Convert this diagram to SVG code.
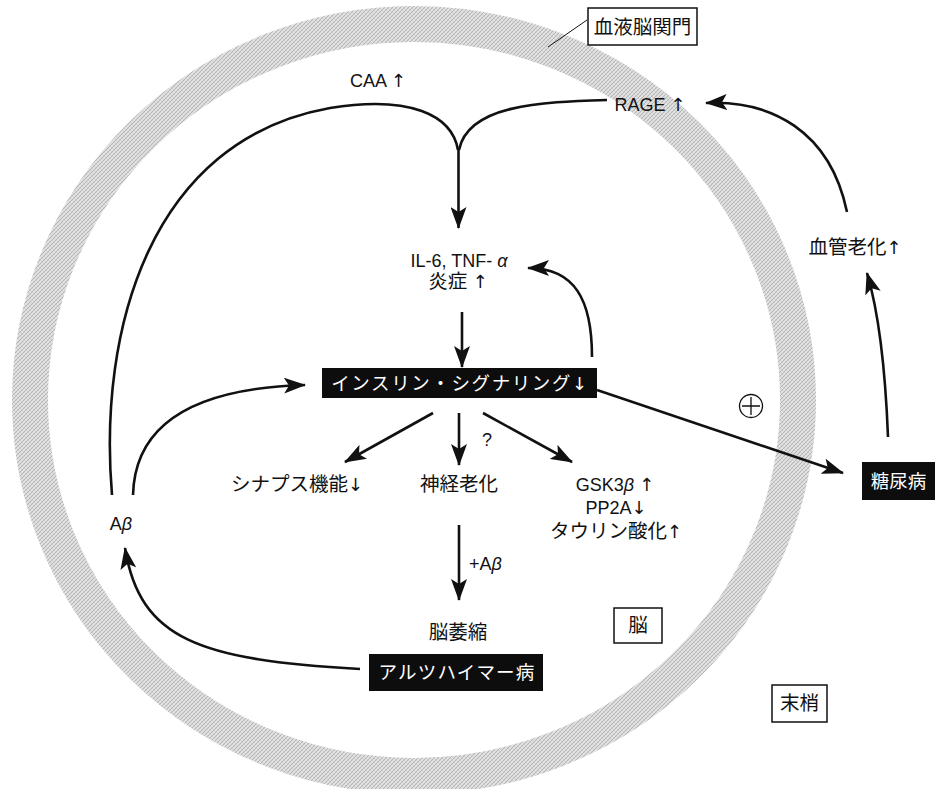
<svg xmlns="http://www.w3.org/2000/svg" width="938" height="789" viewBox="0 0 938 789">
<style>
.t{font-family:"Liberation Sans","Noto Sans CJK JP",sans-serif;font-size:18px;fill:#111;}
.j{font-size:19.5px;}
.w{font-family:"Noto Sans CJK JP","Liberation Sans",sans-serif;font-size:18.5px;fill:#fff;}
.ar{font-family:"DejaVu Sans",sans-serif;font-size:18px;}
.c{fill:none;stroke:#111;stroke-width:2.6;}
.a{marker-end:url(#ah);}
.lbl{fill:#fff;stroke:#111;stroke-width:1.5;}
.blk{fill:#0d0d0d;}
</style>
<defs>
<pattern id="hatch" width="4" height="4" patternUnits="userSpaceOnUse">
<rect width="4" height="4" fill="#e2e2e2"/>
<path d="M0,4 L4,0" stroke="#a8a8a8" stroke-width="0.8"/>
<path d="M0,0 L4,4" stroke="#c4c4c4" stroke-width="0.5"/>
</pattern>
<marker id="ah" viewBox="0 0 22 16" refX="21" refY="8" markerWidth="22" markerHeight="16" markerUnits="userSpaceOnUse" orient="auto">
<path d="M0,0 L22,8 L0,16 L5,8 Z" fill="#111"/>
</marker>
</defs>
<rect width="938" height="789" fill="#fff"/>
<g id="barrier">
<ellipse cx="414" cy="400" rx="384" ry="376" fill="none" stroke="url(#hatch)" stroke-width="36"/>
</g>
<g id="connectors">
<path class="c" d="M112,495 C98,330 150,140 330,108 C410,95 452,115 458,150"/>
<path class="c" d="M607,100 C540,102 468,105 459,150"/>
<path class="c a" d="M458.5,148 L458.5,228"/>
<path class="c a" d="M133,495 C135,420 200,388 305,385"/>
<path class="c a" d="M462,312 L462,367"/>
<path class="c a" d="M592,357 C592,300 575,268 528,268"/>
<path class="c a" d="M433,413 L345,462"/>
<path class="c a" d="M459,413 L459,465"/>
<path class="c a" d="M483,413 L572,462"/>
<path class="c a" d="M459,525 L459,600"/>
<path class="c a" d="M360,669 C200,660 140,640 125,548"/>
<path class="c a" d="M597,390 L843,473"/>
<path class="c a" d="M888,437 C885,360 878,310 867,273"/>
<path class="c a" d="M847,212 C830,130 770,100 706,103"/>
<path d="M587,20 L548,47" fill="none" stroke="#111" stroke-width="1"/>
</g>
<g id="bbb-label"><rect class="lbl" x="588" y="8" width="109" height="37"/><text class="t j" x="642.5" y="34" text-anchor="middle">血液脳関門</text></g>
<g id="caa"><text class="t" x="378" y="87" text-anchor="middle">CAA <tspan class="ar">↑</tspan></text></g>
<g id="rage"><text class="t" x="650" y="111" text-anchor="middle">RAGE <tspan class="ar">↑</tspan></text></g>
<g id="inflammation"><text class="t" x="459" y="267" text-anchor="middle">IL-6, TNF- <tspan font-style="italic">α</tspan></text><text class="t j" x="458" y="288" text-anchor="middle">炎症 <tspan class="ar">↑</tspan></text></g>
<g id="insulin"><rect class="blk" x="322" y="368" width="275" height="30"/><text class="w" x="460" y="390" text-anchor="middle" letter-spacing="1.6">インスリン・シグナリング<tspan class="ar">↓</tspan></text></g>
<g id="synapse"><text class="t j" x="297" y="491" text-anchor="middle">シナプス機能<tspan class="ar">↓</tspan></text></g>
<g id="neuro-aging"><text class="t j" x="459" y="491" text-anchor="middle">神経老化</text><text class="t" x="487" y="446" text-anchor="middle" font-size="15">?</text></g>
<g id="gsk"><text class="t" x="615" y="491" text-anchor="middle">GSK3<tspan font-style="italic">β</tspan> <tspan class="ar">↑</tspan></text><text class="t" x="616" y="514" text-anchor="middle">PP2A<tspan class="ar">↓</tspan></text><text class="t j" x="616" y="538" text-anchor="middle">タウリン酸化<tspan class="ar">↑</tspan></text></g>
<g id="plus-abeta"><text class="t" x="469" y="570">+A<tspan font-style="italic">β</tspan></text></g>
<g id="atrophy"><text class="t j" x="458" y="639" text-anchor="middle">脳萎縮</text></g>
<g id="alzheimer"><rect class="blk" x="369" y="654" width="174" height="37"/><text class="w" x="457" y="679" text-anchor="middle" letter-spacing="1.2">アルツハイマー病</text></g>
<g id="brain"><rect class="lbl" x="614" y="608" width="48" height="35"/><text class="t j" x="638" y="632" text-anchor="middle">脳</text></g>
<g id="periphery"><rect class="lbl" x="772" y="685" width="55" height="37"/><text class="t j" x="799.5" y="710" text-anchor="middle">末梢</text></g>
<g id="abeta"><text class="t" x="121" y="530" text-anchor="middle">A<tspan font-style="italic">β</tspan></text></g>
<g id="vascular"><text class="t j" x="855" y="254" text-anchor="middle">血管老化<tspan class="ar">↑</tspan></text></g>
<g id="diabetes"><rect class="blk" x="862" y="462" width="73" height="38"/><text class="w" x="898.5" y="488" text-anchor="middle" font-size="19.5">糖尿病</text></g>
<g id="plus-sign"><circle cx="751" cy="406" r="11.5" fill="none" stroke="#111" stroke-width="1.3"/><path d="M742,406 H760 M751,397 V415" stroke="#111" stroke-width="1.3"/></g>
</svg>
